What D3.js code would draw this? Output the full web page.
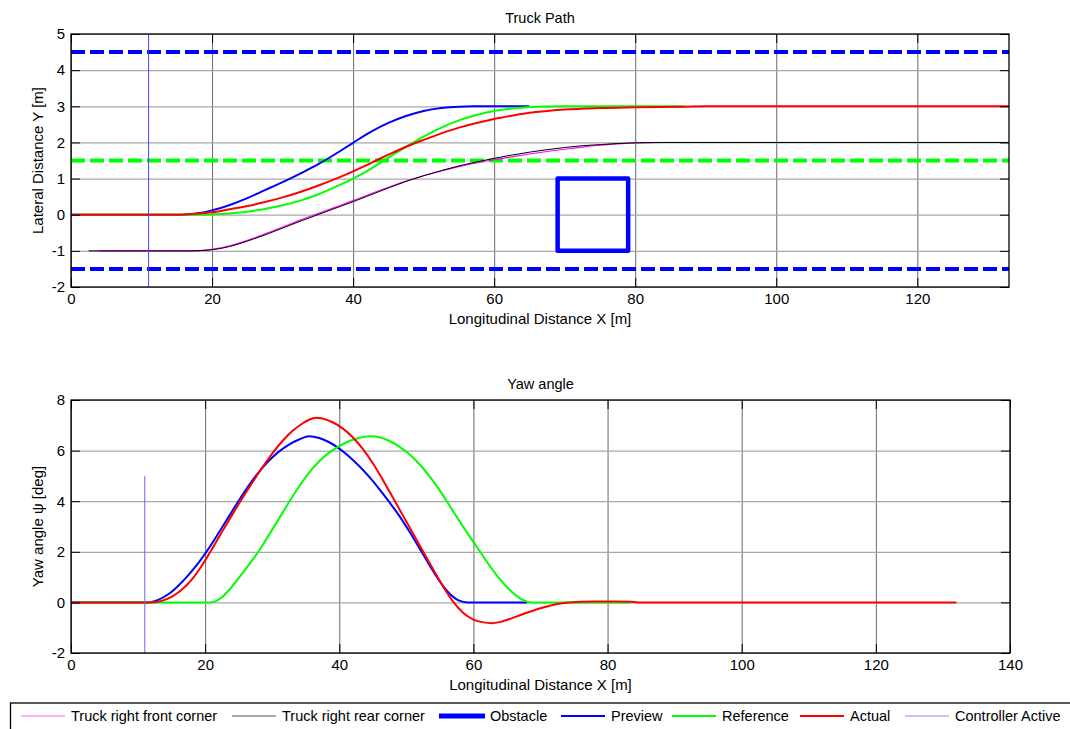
<!DOCTYPE html>
<html><head><meta charset="utf-8">
<script src="https://cdn.jsdelivr.net/npm/d3@7"></script>
<style>
body{margin:0;background:#fff}
text{font-family:"Liberation Sans",Arial,Helvetica,sans-serif;fill:#000}
</style>
</head><body>
<svg id="c" width="1070" height="729"></svg>
<script>
// ---------- data ----------
const pathXTicks = [0, 20, 40, 60, 80, 100, 120];
const pathYTicks = [-2, -1, 0, 1, 2, 3, 4, 5];
const yawXTicks = [0, 20, 40, 60, 80, 100, 120, 140];
const yawYTicks = [-2, 0, 2, 4, 6, 8];

const laneOuter = [4.5, -1.5];
const laneCenter = [1.5];
const obstacleX = [69, 79];
const obstacleY = [-1, 1];
const controllerX = 11;
const controllerY = [-2, 5];

// Truck path (X, Y)
const frontCorner = [[4,-1],[17.5,-1],[20,-0.96],[22.5,-0.86],[25,-0.71],[27.5,-0.53],[30,-0.34],[32.5,-0.15],[35,0.03],[37.5,0.21],[40,0.39],[42.5,0.58],[45,0.76],[47.5,0.93],[50,1.08],[52.5,1.21],[55,1.33],[57.5,1.43],[60,1.52],[62.5,1.6],[65,1.68],[67.5,1.75],[70,1.81],[72.5,1.87],[75,1.92],[77.5,1.96],[80,1.985],[83,2.0],[133,2.0]];
const rearCorner = [[2.5,-1],[17,-1],[20,-0.97],[22.5,-0.88],[25,-0.73],[27.5,-0.56],[30,-0.37],[32.5,-0.18],[35,0.0],[37.5,0.18],[40,0.36],[42.5,0.55],[45,0.74],[47.5,0.92],[50,1.08],[52.5,1.22],[55,1.35],[57.5,1.46],[60,1.56],[62.5,1.65],[65,1.73],[67.5,1.8],[70,1.86],[72.5,1.91],[75,1.94],[77.5,1.97],[80,1.99],[84,2.0],[133,2.0]];
const previewPath = [[0,0],[16,0],[18,0.04],[20,0.12],[22.5,0.27],[25,0.46],[27.5,0.68],[30,0.9],[32.5,1.14],[35,1.39],[37.5,1.68],[40,1.99],[42.5,2.29],[45,2.54],[47.5,2.73],[50,2.87],[52.5,2.95],[55,2.99],[57,3.0],[65,3.0]];
const referencePath = [[0,0],[18,0],[20,0.01],[22.5,0.035],[25,0.08],[27.5,0.16],[30,0.26],[32.5,0.39],[35,0.56],[37.5,0.77],[40,1.0],[42.5,1.27],[45,1.58],[47.5,1.88],[50,2.16],[52.5,2.41],[55,2.61],[57.5,2.76],[60,2.87],[62.5,2.94],[65,2.98],[67.5,2.995],[70,3],[87,3]];
const actualPath = [[0,0],[15.5,0],[17.5,0.025],[20,0.07],[22.5,0.15],[25,0.24],[27.5,0.35],[30,0.48],[32.5,0.63],[35,0.8],[37.5,0.99],[40,1.2],[42.5,1.43],[45,1.66],[47.5,1.88],[50,2.07],[52.5,2.25],[55,2.41],[57.5,2.54],[60,2.65],[62.5,2.74],[65,2.82],[67.5,2.87],[70,2.91],[75,2.95],[80,2.97],[87,2.99],[90,3],[133,3]];

// Yaw angle (X, deg)
const previewYaw = [[0,0],[11.5,0],[13,0.1],[14.5,0.32],[16,0.66],[17.5,1.08],[19,1.56],[20.5,2.12],[22,2.74],[23.5,3.38],[25,4.02],[26.5,4.62],[28,5.15],[29.5,5.6],[31,5.96],[32.5,6.24],[34,6.44],[35.5,6.57],[37,6.5],[38.5,6.33],[40,6.08],[41.5,5.76],[43,5.38],[44.5,4.95],[46,4.47],[47.5,3.95],[49,3.4],[50.5,2.78],[52,2.12],[53.5,1.45],[55,0.82],[56.5,0.33],[57.5,0.12],[58.5,0.02],[59.2,0],[68,0]];
const referenceYaw = [[0,0],[20.7,0],[21.5,0.04],[22.5,0.2],[23.5,0.47],[25,0.96],[26.5,1.48],[28,2.03],[29.5,2.66],[31,3.31],[32.5,3.96],[34,4.58],[35.5,5.13],[37,5.58],[38.5,5.92],[40,6.18],[41.5,6.38],[43,6.51],[44.6,6.57],[46,6.53],[47.5,6.38],[49,6.15],[50.5,5.85],[52,5.45],[53.5,4.97],[55,4.42],[56.5,3.8],[58,3.18],[59.5,2.58],[61,2.0],[62.5,1.42],[64,0.9],[65.5,0.47],[67,0.15],[68,0.03],[68.5,0],[83.5,0]];
const actualYaw = [[0,0],[12,0],[13.5,0.06],[15,0.22],[16.5,0.5],[18,0.9],[19.5,1.45],[21,2.1],[22.5,2.78],[24,3.45],[25.5,4.1],[27,4.72],[28.5,5.32],[30,5.88],[31.5,6.37],[33,6.77],[34.5,7.07],[35.5,7.22],[36.5,7.3],[37.5,7.27],[39,7.12],[40.5,6.88],[42,6.53],[43.5,6.07],[45,5.5],[46.5,4.84],[48,4.14],[49.5,3.43],[51,2.72],[52.5,2.01],[54,1.3],[55.5,0.62],[57,0.02],[58.5,-0.42],[60,-0.68],[61.5,-0.79],[62.7,-0.82],[64,-0.77],[65.5,-0.65],[67,-0.5],[68.5,-0.36],[70,-0.23],[71.5,-0.12],[73,-0.04],[74.5,0],[76,0.03],[78,0.04],[81,0.04],[83.5,0.03],[84.5,0],[132,0]];

const legendItems = ["Truck right front corner","Truck right rear corner","Obstacle","Preview","Reference","Actual","Controller Active"];
const legendColors = ["#ff66ff","#555555","#0000ff","#0000ff","#00ff00","#ff0000","#8888ff"];
const legendWidths = [1.2,1.2,5,2,2,2,1.2];

// ---------- drawing ----------
const svg = d3.select("#c");
svg.append("rect").attr("width",1070).attr("height",729).attr("fill","#fff");
const fmt = d => String(d);

function panel(opts){
  const {x, y, xticks, yticks, title, xlabel, ylabel, id} = opts;
  const [L,R] = x.range(), [B,T] = y.range();
  const g = svg.append("g");
  g.append("clipPath").attr("id",id).append("rect")
    .attr("x",L).attr("y",T).attr("width",R-L).attr("height",B-T);
  // grid
  g.append("g").attr("transform",`translate(0,${B})`)
    .call(d3.axisBottom(x).tickValues(xticks).tickSize(-(B-T)).tickFormat(""))
    .call(s=>s.select(".domain").remove())
    .call(s=>s.selectAll("line").attr("stroke","#6a6a6a").attr("stroke-width",1));
  g.append("g").attr("transform",`translate(${L},0)`)
    .call(d3.axisLeft(y).tickValues(yticks).tickSize(-(R-L)).tickFormat(""))
    .call(s=>s.select(".domain").remove())
    .call(s=>s.selectAll("line").attr("stroke","#a8a8a8").attr("stroke-width",1.2));
  const plot = g.append("g").attr("clip-path",`url(#${id})`);
  // axes with labels, inward ticks
  const fs = "15px";
  g.append("g").attr("transform",`translate(0,${B})`)
    .call(d3.axisBottom(x).tickValues(xticks).tickSizeInner(-9).tickSizeOuter(0).tickPadding(6).tickFormat(fmt))
    .call(s=>s.select(".domain").remove())
    .call(s=>s.selectAll("text").attr("font-size",fs).attr("font-family",null).attr("fill","#000"))
    .call(s=>s.selectAll("line").attr("stroke","#000"));
  g.append("g").attr("transform",`translate(${L},0)`)
    .call(d3.axisLeft(y).tickValues(yticks).tickSizeInner(-9).tickSizeOuter(0).tickPadding(6).tickFormat(fmt))
    .call(s=>s.select(".domain").remove())
    .call(s=>s.selectAll("text").attr("font-size",fs).attr("font-family",null).attr("fill","#000"))
    .call(s=>s.selectAll("line").attr("stroke","#000"));
  g.append("g").attr("transform",`translate(${R},0)`)
    .call(d3.axisRight(y).tickValues(yticks).tickSizeInner(-9).tickSizeOuter(0).tickFormat(""))
    .call(s=>s.select(".domain").remove())
    .call(s=>s.selectAll("line").attr("stroke","#000"));
  g.append("g").attr("transform",`translate(0,${T})`)
    .call(d3.axisTop(x).tickValues(xticks.filter(v=>v<=x.domain()[1])).tickSizeInner(-9).tickSizeOuter(0).tickFormat(""))
    .call(s=>s.select(".domain").remove())
    .call(s=>s.selectAll("line").attr("stroke","#000"));
  // title & labels
  g.append("text").attr("x",(L+R)/2).attr("y",T-11).attr("text-anchor","middle").attr("font-size","14.5px").text(title);
  g.append("text").attr("x",(L+R)/2).attr("y",B+37).attr("text-anchor","middle").attr("font-size","15px").text(xlabel);
  g.append("text").attr("transform",`translate(${L-28},${(T+B)/2}) rotate(-90)`).attr("text-anchor","middle").attr("font-size","15px").text(ylabel);
  return {g, plot, L, R, T, B, frame(){
    g.append("rect").attr("x",L).attr("y",T).attr("width",R-L).attr("height",B-T)
      .attr("fill","none").attr("stroke","#000").attr("stroke-width",1.3);
  }};
}

function drawLine(plot, x, y, data, color, width){
  plot.append("path").datum(data)
    .attr("fill","none").attr("stroke",color).attr("stroke-width",width)
    .attr("stroke-linejoin","round")
    .attr("d", d3.line().x(d=>x(d[0])).y(d=>y(d[1])).curve(d3.curveMonotoneX));
}

// ---- Truck Path ----
const xP = d3.scaleLinear([0,133],[71,1009]);
const yP = d3.scaleLinear([-2,5],[287,34]);
const p1 = panel({x:xP,y:yP,xticks:pathXTicks,yticks:pathYTicks,title:"Truck Path",
  xlabel:"Longitudinal Distance X [m]",ylabel:"Lateral Distance Y [m]",id:"clip1"});

laneOuter.forEach(v=>p1.plot.append("line").attr("x1",xP(0)).attr("x2",xP(133)).attr("y1",yP(v)).attr("y2",yP(v))
  .attr("stroke","#0000ff").attr("stroke-width",4).attr("stroke-dasharray","14,5"));
laneCenter.forEach(v=>p1.plot.append("line").attr("x1",xP(0)).attr("x2",xP(133)).attr("y1",yP(v)).attr("y2",yP(v))
  .attr("stroke","#00ff00").attr("stroke-width",4).attr("stroke-dasharray","14,5"));
p1.plot.append("rect").attr("x",xP(obstacleX[0])).attr("y",yP(obstacleY[1]))
  .attr("width",xP(obstacleX[1])-xP(obstacleX[0])).attr("height",yP(obstacleY[0])-yP(obstacleY[1]))
  .attr("fill","none").attr("stroke","#0000ff").attr("stroke-width",4.5).attr("stroke-linejoin","round");
drawLine(p1.plot,xP,yP,frontCorner,"#ff00ff",1.1);
drawLine(p1.plot,xP,yP,rearCorner,"#000000",1);
drawLine(p1.plot,xP,yP,previewPath,"#0000ff",2);
drawLine(p1.plot,xP,yP,referencePath,"#00ff00",2);
drawLine(p1.plot,xP,yP,actualPath,"#ff0000",2);
p1.plot.append("line").attr("x1",xP(controllerX)).attr("x2",xP(controllerX)).attr("y1",yP(controllerY[0])).attr("y2",yP(controllerY[1]))
  .attr("stroke","#4444ff").attr("stroke-width",1);
p1.frame();

// ---- Yaw angle ----
const xY = d3.scaleLinear([0,140],[71,1010]);
const yY = d3.scaleLinear([-2,8],[653,400]);
const p2 = panel({x:xY,y:yY,xticks:yawXTicks,yticks:yawYTicks,title:"Yaw angle",
  xlabel:"Longitudinal Distance X [m]",ylabel:"Yaw angle \u03C8 [deg]",id:"clip2"});
drawLine(p2.plot,xY,yY,previewYaw,"#0000ff",2);
drawLine(p2.plot,xY,yY,referenceYaw,"#00ff00",2);
drawLine(p2.plot,xY,yY,actualYaw,"#ff0000",2);
p2.plot.append("line").attr("x1",xY(controllerX)).attr("x2",xY(controllerX)).attr("y1",yY(controllerY[0])).attr("y2",yY(controllerY[1]))
  .attr("stroke","#6666ff").attr("stroke-width",1);
p2.frame();

// ---- Legend ----
const lg = svg.append("g");
lg.append("rect").attr("x",10.5).attr("y",703).attr("width",1080).attr("height",40)
  .attr("fill","#fff").attr("stroke","#000").attr("stroke-width",1.3);
const lineStarts = [21,232,439,561,672,800,905];
legendItems.forEach((t,i)=>{
  const x0 = lineStarts[i];
  lg.append("line").attr("x1",x0).attr("x2",x0+(i===2?46:44)).attr("y1",716).attr("y2",716)
    .attr("stroke",legendColors[i]).attr("stroke-width",legendWidths[i]);
  lg.append("text").attr("x",x0+(i===2?51:50)).attr("y",721).attr("font-size","14.5px").text(t);
});
</script>
</body></html>
